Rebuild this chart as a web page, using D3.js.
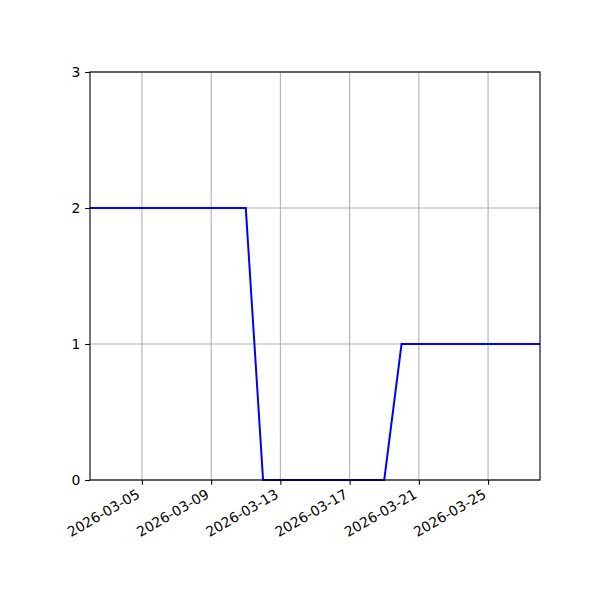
<!DOCTYPE html>
<html>
<head>
<meta charset="utf-8">
<script src="https://cdn.jsdelivr.net/npm/d3@7"></script>
<style>
  body { margin: 0; background: #fff; }
  text { font-family: "DejaVu Sans", sans-serif; font-size: 13.9px; fill: #000; }
</style>
</head>
<body>
<svg id="chart" width="600" height="600"></svg>
<script>
// daily values
const dates = ["2026-03-02", "2026-03-03", "2026-03-04", "2026-03-05", "2026-03-06", "2026-03-07",
    "2026-03-08", "2026-03-09", "2026-03-10", "2026-03-11", "2026-03-12", "2026-03-13",
    "2026-03-14", "2026-03-15", "2026-03-16", "2026-03-17", "2026-03-18", "2026-03-19",
    "2026-03-20", "2026-03-21", "2026-03-22", "2026-03-23", "2026-03-24", "2026-03-25",
    "2026-03-26", "2026-03-27", "2026-03-28"];
const values = [2, 2, 2, 2, 2, 2, 2, 2, 2, 2, 0, 0, 0, 0, 0, 0, 0, 0, 1, 1, 1, 1, 1, 1, 1, 1, 1];
const xTickLabels = ["2026-03-05", "2026-03-09", "2026-03-13", "2026-03-17", "2026-03-21", "2026-03-25"];
const yTicks = [0, 1, 2, 3];

const parseDate = d3.utcParse("%Y-%m-%d");
const data = dates.map((d, i) => ({ date: parseDate(d), value: values[i] }));

const margin = { top: 72, right: 60, bottom: 120, left: 90 };
const width = 600 - margin.left - margin.right;
const height = 600 - margin.top - margin.bottom;

const svg = d3.select("#chart");
const chartArea = svg.append("g")
    .attr("transform", `translate(${margin.left},${margin.top})`);

const x = d3.scaleUtc()
    .domain(d3.extent(data, d => d.date))
    .range([0, width]);

const y = d3.scaleLinear()
    .domain([0, 3])
    .range([height, 0]);

const tickLen = 4.86;

// grid
chartArea.selectAll(".x-grid")
    .data(xTickLabels)
    .join("line")
    .attr("x1", d => x(parseDate(d)))
    .attr("x2", d => x(parseDate(d)))
    .attr("y1", 0)
    .attr("y2", height)
    .attr("stroke", "#b0b0b0")
    .attr("stroke-width", 1.1);

chartArea.selectAll(".y-grid")
    .data(yTicks)
    .join("line")
    .attr("x1", 0)
    .attr("x2", width)
    .attr("y1", d => y(d))
    .attr("y2", d => y(d))
    .attr("stroke", "#b0b0b0")
    .attr("stroke-width", 1.1);

// line
chartArea.append("path")
    .datum(data)
    .attr("fill", "none")
    .attr("stroke", "#0000ff")
    .attr("stroke-width", 2)
    .attr("d", d3.line().x(d => x(d.date)).y(d => y(d.value)));

// x axis
const xAxis = chartArea.append("g")
    .attr("transform", `translate(0,${height})`)
    .call(d3.axisBottom(x)
        .tickValues(xTickLabels.map(parseDate))
        .tickFormat(d3.utcFormat("%Y-%m-%d"))
        .tickSizeInner(tickLen)
        .tickSizeOuter(0));
xAxis.select(".domain").remove();
xAxis.selectAll(".tick line").attr("stroke", "#000").attr("stroke-width", 1.1);
xAxis.selectAll(".tick text")
    .attr("font-size", null)
    .attr("font-family", null)
    .attr("y", null)
    .attr("dy", null)
    .attr("text-anchor", "end")
    .attr("transform", "translate(-1.5,17) rotate(-30)");
xAxis.attr("font-size", null).attr("font-family", null);

// y axis
const yAxis = chartArea.append("g")
    .call(d3.axisLeft(y)
        .tickValues(yTicks)
        .tickFormat(d3.format("d"))
        .tickSizeInner(tickLen)
        .tickPadding(4.86)
        .tickSizeOuter(0));
yAxis.select(".domain").remove();
yAxis.selectAll(".tick line").attr("stroke", "#000").attr("stroke-width", 1.1);
yAxis.attr("font-size", null).attr("font-family", null);

// frame
chartArea.append("rect")
    .attr("width", width)
    .attr("height", height)
    .attr("fill", "none")
    .attr("stroke", "#000")
    .attr("stroke-width", 1.1);
</script>
</body>
</html>
